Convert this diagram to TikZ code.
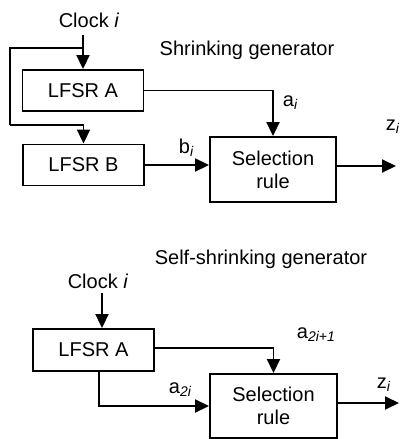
\documentclass[tikz,border=0pt]{standalone}
\usepackage{fontspec}
\setmainfont{Liberation Sans}
\usetikzlibrary{positioning, calc, arrows.meta}

\begin{document}
\begin{tikzpicture}[x=1pt, y=-1pt, ->, >={Triangle[length=14pt,width=13pt]}, line width=1.9pt,
    font=\fontsize{20}{23}\selectfont]
    \tikzstyle{block}=[draw, rectangle, align=center, minimum width=121pt, minimum height=41pt, inner sep=0pt]
    \tikzstyle{lbl}=[inner sep=0pt]
    \useasboundingbox (0,0) rectangle (399,439);

    % Shrinking generator
    \node[lbl, anchor=base] (clk1) at (89,27.5) {Clock \textit{i}};
    \node[lbl, anchor=base] (title1) at (247,55) {Shrinking generator};
    \node[block] (lfsrA1) at (83,90.5) {LFSR A};
    \node[block] (lfsrB) at (83.5,165) {LFSR B};
    \node[block, minimum width=126pt, minimum height=65pt] (sel1) at (273,169.5) {Selection\\rule};
    \coordinate (clkin1) at (83,35);
    \coordinate (split) at (83,48);
    \coordinate (fbk) at (10,125);
    \coordinate (out1) at (396,166);

    % Clock to both registers
    \draw (clkin1) -- (lfsrA1);
    \draw[-] (split) -| (fbk);
    \draw (fbk) -| (lfsrB);

    % Register outputs into the selection rule
    \draw (lfsrA1) -| (sel1);
    \draw (lfsrB) -- (lfsrB -| sel1.west);
    \draw (sel1.east |- out1) -- (out1);

    \node[lbl, anchor=base west] (ai) at (282,106) {a\textsubscript{\itshape i}};
    \node[lbl, anchor=base west] (bi) at (178,153) {b\textsubscript{\itshape i}};
    \node[lbl, anchor=base west] (zi1) at (385,130) {z\textsubscript{\itshape i}};

    % Self-shrinking generator
    \node[lbl, anchor=base] (title2) at (261,264) {Self-shrinking generator};
    \node[lbl, anchor=base] (clk2) at (98,288) {Clock \textit{i}};
    \node[block, minimum height=42pt] (lfsrA2) at (93.5,350) {LFSR A};
    \node[block, minimum width=127pt, minimum height=64pt] (sel2) at (273.5,406) {Selection\\rule};
    \coordinate (clkin2) at (102,293);
    \coordinate (tap) at (99,371);
    \coordinate (out2) at (399,403);

    \draw (clkin2) -- (clkin2 |- lfsrA2.north);
    \draw (lfsrA2.east |- 0,348) -| (sel2);
    \draw (tap) |- (sel2);
    \draw (sel2.east |- out2) -- (out2);

    \node[lbl, anchor=base west] (a2i1) at (296,338) {a\textsubscript{\itshape 2i+1}};
    \node[lbl, anchor=base west] (a2i) at (168,393) {a\textsubscript{\itshape 2i}};
    \node[lbl, anchor=base west] (zi2) at (376,388) {z\textsubscript{\itshape i}};
\end{tikzpicture}
\end{document}
